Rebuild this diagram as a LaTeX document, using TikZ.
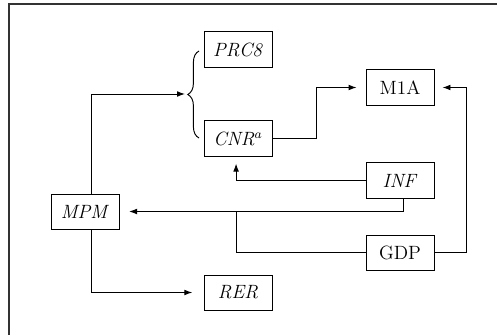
\documentclass[tikz,border=0pt]{standalone}
\usepackage{amsmath}
\usepackage{amssymb}
\usepackage{tikz}
\usetikzlibrary{arrows.meta,decorations.pathreplacing}

\begin{document}
\begin{tikzpicture}[x=0.625pt,y=-0.625pt,>={Latex[length=5pt,width=3.6pt]},line width=0.6pt,
  every node/.style={inner sep=2pt},
  blk/.style={draw,minimum width=42.5pt,minimum height=21.9pt,font=\large}]
\useasboundingbox (0,0) rectangle (497,335);
\draw[line width=0.8pt,black!80] (497,4) -- (9,4) -- (9,335);

\node[blk] (prc) at (238,49.5) {\textit{PRC8}};
\node[blk] (cnr) at (238,138.5) {\textit{CNR}$^a$};
\node[blk] (m1a) at (400,87.5) {M1A};
\node[blk] (inf) at (400,180.5) {\textit{INF}};
\node[blk] (gdp) at (400,252.5) {GDP};
\node[blk] (mpm) at (85,211.5) {\textit{MPM}};
\node[blk] (rer) at (238,292.5) {\textit{RER}};

\coordinate (brtip) at (185,94);
\coordinate (jn) at (236,211.5);

% brace over prc and cnr
\draw[decorate,decoration={brace,amplitude=7pt}] (199,138) -- (199,51);

\draw[->] ([xshift=4.3pt]mpm.north) |- (brtip);
\draw[->,shorten >=7pt] ([xshift=4.3pt]mpm.south) |- (rer.west);
\draw[->,shorten >=5.6pt] (cnr.east) -- ++(44,0) |- (m1a.west);
\draw[->,shorten >=5pt] (gdp.east) -- ++(32,0) |- (m1a.east);
\draw[->,shorten >=4.4pt] (inf.west) -| ([xshift=-1.2pt]cnr.south);
\draw[->,shorten >=6pt] ([xshift=1.9pt]inf.south) |- (mpm.east);
\draw (gdp.west) -| (jn);

\end{tikzpicture}
\end{document}
